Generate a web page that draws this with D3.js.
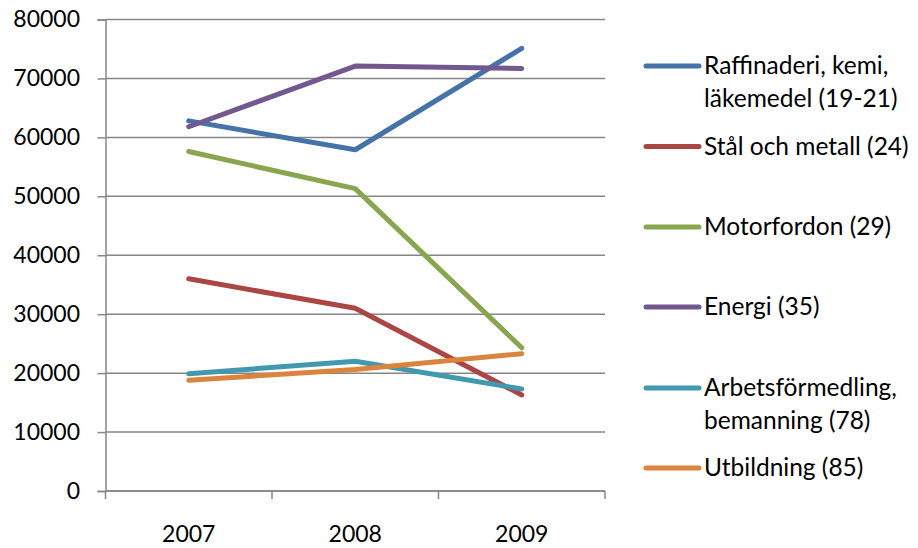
<!DOCTYPE html>
<html><head><meta charset="utf-8">
<script src="https://cdn.jsdelivr.net/npm/d3@7"></script>
<style>
html,body{margin:0;padding:0;background:#fff;}
svg{display:block;font-family:Lato,"Open Sans",sans-serif;}
</style></head>
<body>
<svg id="c" width="918" height="548"></svg>
<script>
const years = ["2007", "2008", "2009"];
const seriesNames = [
  ["Raffinaderi, kemi,", "läkemedel (19-21)"],
  ["Stål och metall (24)"],
  ["Motorfordon (29)"],
  ["Energi (35)"],
  ["Arbetsförmedling,", "bemanning (78)"],
  ["Utbildning (85)"]
];
const raffinaderi = [62800, 57900, 75100];
const stal = [36000, 31000, 16300];
const motorfordon = [57600, 51300, 24300];
const energi = [61800, 72100, 71700];
const arbetsformedling = [19900, 22000, 17300];
const utbildning = [18800, 20600, 23300];
const yTicks = [0, 10000, 20000, 30000, 40000, 50000, 60000, 70000, 80000];
const colors = ["#4572A7", "#AA4643", "#89A54E", "#71588F", "#4198AF", "#DB843D"];
const values = [raffinaderi, stal, motorfordon, energi, arbetsformedling, utbildning];

const svg = d3.select("#c");
const L = 105.5, R = 605, T = 19.5, B = 491;
const x = d3.scaleBand().domain(years).range([L, R]);
const y = d3.scaleLinear().domain([0, 80000]).range([B, T]);
const grid = "#868686";

// gridlines
svg.append("g").selectAll("line").data(yTicks).join("line")
  .attr("x1", L).attr("x2", R)
  .attr("y1", d => y(d)).attr("y2", d => y(d))
  .attr("stroke", grid).attr("stroke-width", 1.5);

// y axis
const ya = svg.append("g").attr("transform", `translate(${L},0)`)
  .call(d3.axisLeft(y).tickValues(yTicks).tickSize(8).tickPadding(17.5).tickFormat(d3.format("d")));
ya.select(".domain").attr("stroke", grid).attr("stroke-width", 1.5);
ya.selectAll(".tick line").attr("stroke", grid).attr("stroke-width", 1.5);
ya.selectAll("text").attr("font-size", 23).attr("fill", "#000").attr("font-family", "Lato");

// x axis
const xa = svg.append("g").attr("transform", `translate(0,${B})`);
xa.append("line").attr("x1", L).attr("x2", R).attr("stroke", grid).attr("stroke-width", 1.5);
const bounds = years.map(d => x(d)).concat([R]);
xa.selectAll("line.tk").data(bounds).join("line").attr("class", "tk")
  .attr("x1", d => d).attr("x2", d => d).attr("y1", 0).attr("y2", 8)
  .attr("stroke", grid).attr("stroke-width", 1.5);
xa.selectAll("text").data(years).join("text")
  .attr("x", d => x(d) + x.bandwidth() / 2).attr("y", 50.5)
  .attr("text-anchor", "middle").attr("font-size", 23).text(d => d);

// lines
const line = d3.line().x((d, i) => x(years[i]) + x.bandwidth() / 2).y(d => y(d));
values.forEach((v, i) => {
  svg.append("path").datum(v).attr("d", line).attr("fill", "none")
    .attr("stroke", colors[i]).attr("stroke-width", 5)
    .attr("stroke-linecap", "round").attr("stroke-linejoin", "round");
});

// legend
const legY = [66, 146.5, 227, 307, 388, 468];
const lg = svg.append("g");
seriesNames.forEach((names, i) => {
  lg.append("line").attr("x1", 646).attr("x2", 699).attr("y1", legY[i]).attr("y2", legY[i])
    .attr("stroke", colors[i]).attr("stroke-width", 5).attr("stroke-linecap", "round");
  names.forEach((t, j) => {
    lg.append("text").attr("x", 704).attr("y", legY[i] + 8 + j * 33)
      .attr("font-size", 24.5).text(t);
  });
});
</script>
</body></html>
